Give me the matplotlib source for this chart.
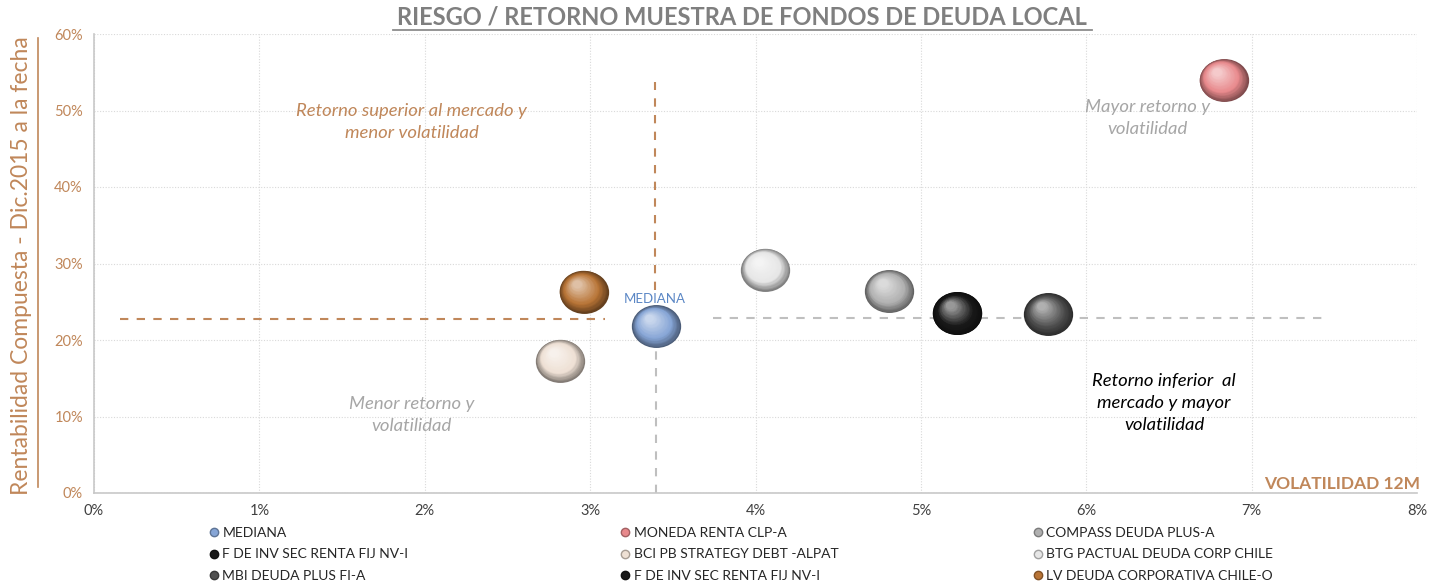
import numpy as np
import matplotlib.pyplot as plt
import matplotlib.colors as mcolors
from matplotlib.path import Path
from matplotlib.transforms import Affine2D, offset_copy
from matplotlib.lines import Line2D

# --------------------------------------------------------------
# Data (volatilidad 12M %, rentabilidad compuesta %)
# --------------------------------------------------------------

fondos = ["MEDIANA", "MONEDA RENTA CLP-A", "COMPASS DEUDA PLUS-A",
          "F DE INV SEC RENTA FIJ NV-I", "BCI PB STRATEGY DEBT -ALPAT",
          "BTG PACTUAL DEUDA CORP CHILE", "MBI DEUDA PLUS FI-A",
          "F DE INV SEC RENTA FIJ NV-I", "LV DEUDA CORPORATIVA CHILE-O"]
volatilidad = [3.40, 6.83, 4.81, 5.22, 2.82, 4.06, 5.77, 5.22, 2.96]
retorno = [21.8, 54.0, 26.4, 23.5, 17.3, 29.2, 23.4, 23.5, 26.3]
colores = ["#86a5d6", "#e8898c", "#b0b0b0", "#1a1a1a", "#eee0d4",
           "#e6e6e6", "#505050", "#1a1a1a", "#b87436"]

# reference lines (mediana)
med_x = 3.40
med_y = 22.8

brown = "#c0875a"

# --------------------------------------------------------------
# Figure
# --------------------------------------------------------------

plt.rcParams['font.family'] = ['Lato', 'DejaVu Sans']

fig = plt.figure(figsize=(14.41, 5.86), dpi=100)
ax = fig.add_axes([94 / 1441, 93 / 586, 1323 / 1441, 459 / 586])

ax.set_xlim(0, 8)
ax.set_ylim(0, 60)
ax.set_xticks(np.arange(0, 9, 1))
ax.set_yticks(np.arange(0, 61, 10))
ax.set_xticklabels([f"{v}%" for v in range(0, 9)], color="#404040", fontsize=10.5)
ax.set_yticklabels([f"{v}%" for v in range(0, 61, 10)], color=brown, fontsize=10.5)
ax.tick_params(length=0, pad=8)
ax.grid(True, color="#d9d9d9", linestyle=(0, (1, 1.5)), linewidth=0.8)
ax.set_axisbelow(True)
for s in ["top", "right"]:
    ax.spines[s].set_visible(False)
for s in ["left", "bottom"]:
    ax.spines[s].set_color("#c8c8c8")
    ax.spines[s].set_linewidth(1.2)

# dashed reference lines
ax.plot([0.16, 3.09], [med_y - 0.1, med_y - 0.1], color=brown, lw=1.5, ls=(0, (4, 4)))
ax.plot([med_x - 0.01, med_x - 0.01], [26.5, 53.7], color=brown, lw=1.5, ls=(0, (4, 4)))
ax.plot([med_x, med_x], [0, 19.3], color="#bfbfbf", lw=1.5, ls=(0, (4, 4)))
ax.plot([3.74, 7.44], [med_y + 0.1, med_y + 0.1], color="#bfbfbf", lw=1.5, ls=(0, (4, 4)))

# --------------------------------------------------------------
# Spheres
# --------------------------------------------------------------

ellipse = Path.unit_circle().transformed(Affine2D().scale(1, 0.87))


def mix(c1, c2, t):
    a = np.array(mcolors.to_rgb(c1))
    b = np.array(mcolors.to_rgb(c2))
    return tuple(a * (1 - t) + b * t)


def sphere(x, y, color, diam=35.5, n=24):
    dark = mix(color, "black", 0.45)
    light = mix(color, "white", 0.55)
    for i in range(n):
        t = i / (n - 1)
        d = diam * (1 - 0.82 * t)
        if t < 0.35:
            c = mix(dark, color, t / 0.35)
        else:
            c = mix(color, light, (t - 0.35) / 0.65)
        tr = offset_copy(ax.transData, fig=fig, x=-diam * 0.14 * t,
                         y=diam * 0.16 * t, units="points")
        ax.scatter([x], [y], s=d ** 2, marker=ellipse, color=c,
                   linewidths=0, transform=tr, zorder=3 + i * 0.01)


for x, y, c in zip(volatilidad, retorno, colores):
    sphere(x, y, c)

# --------------------------------------------------------------
# Texts
# --------------------------------------------------------------

ax.text(med_x - 0.01, 25.3, "MEDIANA", color="#5b87c5", fontsize=9.5,
        ha="center", va="center", zorder=5)

ax.text(1.92, 48.5, "Retorno superior al mercado y\nmenor volatilidad",
        color=brown, style="italic", fontsize=13.3, ha="center", va="center",
        linespacing=1.45)
ax.text(6.37, 49.0, "Mayor retorno y\nvolatilidad", color="#a6a6a6",
        style="italic", fontsize=13.3, ha="center", va="center", linespacing=1.45)
ax.text(1.92, 10.2, "Menor retorno y\nvolatilidad", color="#a6a6a6",
        style="italic", fontsize=13.3, ha="center", va="center", linespacing=1.45)
ax.text(6.47, 11.8, "Retorno inferior  al\nmercado y mayor\nvolatilidad",
        color="black", style="italic", fontsize=13.3, ha="center", va="center",
        linespacing=1.45)

ax.text(8.02, 1.2, "VOLATILIDAD 12M", color=brown, fontsize=12.5,
        fontweight="bold", ha="right", va="center")

# title with underline
fig.text(742 / 1441, 1 - 17 / 586, "RIESGO / RETORNO MUESTRA DE FONDOS DE DEUDA LOCAL",
         color="#7f7f7f", fontsize=17, fontweight="bold", ha="center", va="center")
fig.add_artist(Line2D([393 / 1441, 1092 / 1441], [1 - 30 / 586, 1 - 30 / 586],
                      color="#8c8c8c", lw=1.3))

# y label with line on its side
fig.text(22 / 1441, 1 - 266 / 586, "Rentabilidad Compuesta - Dic.2015 a la fecha",
         color=brown, fontsize=16.5, rotation=90, ha="center", va="center")
fig.add_artist(Line2D([38 / 1441, 38 / 1441], [1 - 38 / 586, 1 - 487 / 586],
                      color=brown, lw=1.2))

# --------------------------------------------------------------
# Legend: three columns
# --------------------------------------------------------------

col_x = [210, 621, 1034]
for col in range(3):
    idx = [col, col + 3, col + 6]
    handles = [Line2D([], [], marker="o", ls="none", markersize=6,
                      markerfacecolor=colores[i],
                      markeredgecolor=mix(colores[i], "black", 0.3))
               for i in idx]
    leg = fig.legend(handles, [fondos[i] for i in idx], loc="upper left",
                     bbox_to_anchor=(col_x[col] / 1441, 1 - 527 / 586),
                     frameon=False, fontsize=10, handlelength=0.6,
                     handletextpad=0.3, labelspacing=0.68, borderaxespad=0,
                     borderpad=0)
    for t in leg.get_texts():
        t.set_color("#262626")

fig.savefig("out.png", dpi=100)
